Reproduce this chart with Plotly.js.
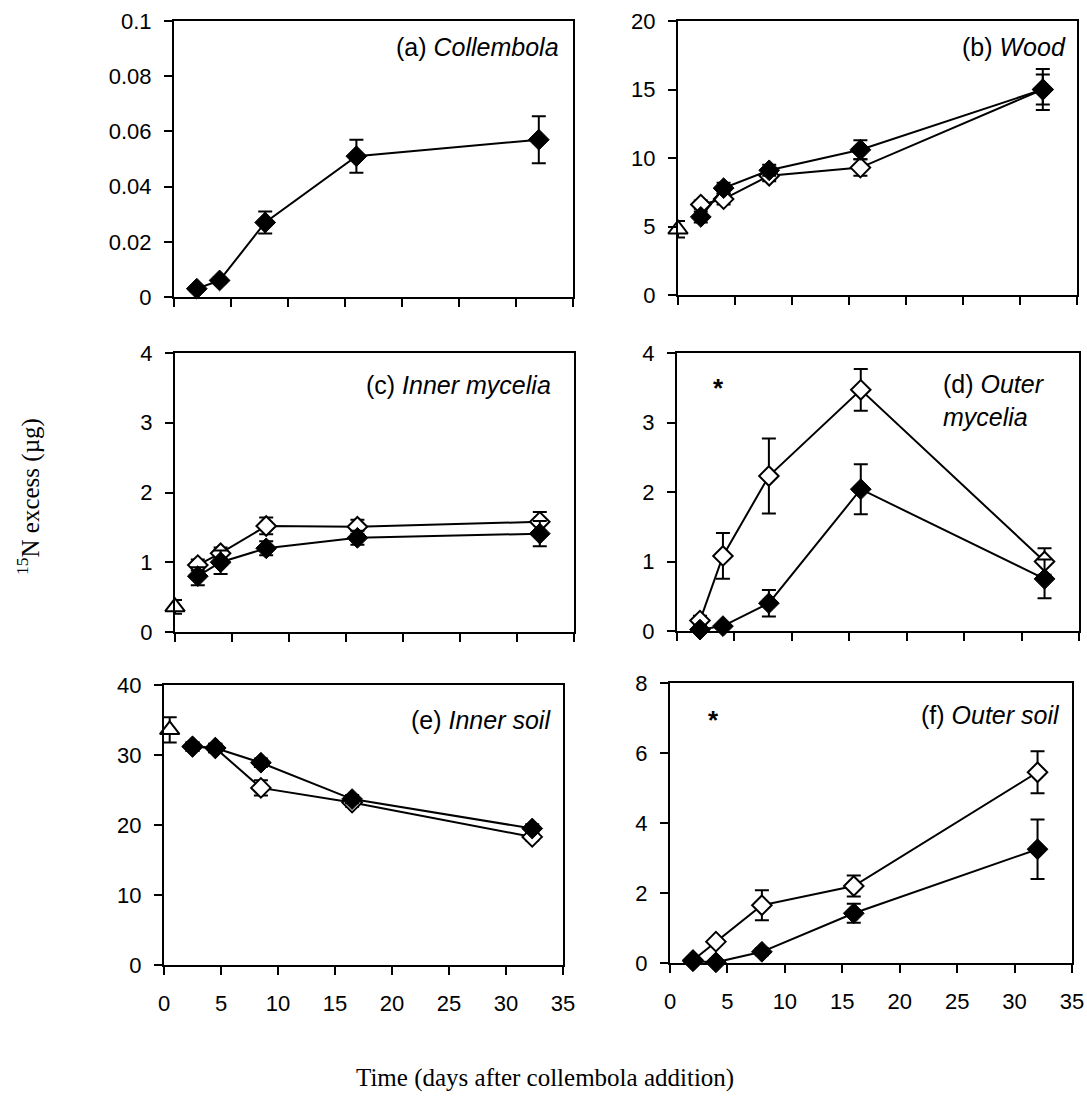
<!DOCTYPE html>
<html><head><meta charset="utf-8">
<script src="https://cdn.plot.ly/plotly-3.0.1.min.js"></script>
<style>html,body{margin:0;padding:0;background:#fff}</style>
</head><body>
<div id="chart" style="width:1087px;height:1110px"></div>
<script>
// ---- data ----
const days = [2, 4, 8, 16, 32];
const daysInnerSoil = [2.5, 4.5, 8.5, 16.5, 32.3];
const startDay = [0];
const startDayInnerSoil = [0.5];

const collembolaFilled = [0.003, 0.006, 0.027, 0.051, 0.057];
const collembolaFilledErr = [0.001, 0.001, 0.004, 0.006, 0.0085];

const woodFilled = [5.7, 7.8, 9.1, 10.6, 15.0];
const woodFilledErr = [0.4, 0.4, 0.4, 0.7, 1.5];
const woodOpen = [6.6, 7.0, 8.7, 9.3, 15.0];
const woodOpenErr = [0.3, 0.4, 0.4, 0.6, 1.1];
const woodStart = [4.8];
const woodStartErr = [0.6];

const innerMycFilled = [0.8, 1.0, 1.2, 1.35, 1.41];
const innerMycFilledErr = [0.13, 0.17, 0.1, 0.1, 0.18];
const innerMycOpen = [0.96, 1.13, 1.52, 1.51, 1.58];
const innerMycOpenErr = [0.08, 0.08, 0.12, 0.1, 0.14];
const innerMycStart = [0.36];
const innerMycStartErr = [0.1];

const outerMycFilled = [0.02, 0.07, 0.4, 2.04, 0.75];
const outerMycFilledErr = [0.02, 0.03, 0.19, 0.36, 0.28];
const outerMycOpen = [0.15, 1.08, 2.23, 3.47, 1.0];
const outerMycOpenErr = [0.07, 0.33, 0.54, 0.3, 0.19];

const innerSoilFilled = [31.2, 31.0, 28.9, 23.7, 19.5];
const innerSoilFilledErr = [0.6, 0.6, 0.6, 0.6, 0.6];
const innerSoilOpen = [31.2, 31.0, 25.3, 23.2, 18.3];
const innerSoilOpenErr = [0.6, 0.6, 1.1, 0.6, 0.5];
const innerSoilStart = [33.6];
const innerSoilStartErr = [1.8];

const outerSoilFilled = [0.05, 0.02, 0.32, 1.42, 3.25];
const outerSoilFilledErr = [0.03, 0.03, 0.1, 0.27, 0.85];
const outerSoilOpen = [0.08, 0.61, 1.65, 2.2, 5.45];
const outerSoilOpenErr = [0.03, 0.08, 0.43, 0.3, 0.6];

const panelLabels = ['(a) <i>Collembola</i>', '(b) <i>Wood</i>', '(c) <i>Inner mycelia</i>',
  '(d) <i>Outer</i><br><i>mycelia</i>', '(e) <i>Inner soil</i>', '(f) <i>Outer soil</i>'];
const yRanges = [[0, 0.1], [0, 20], [0, 4], [0, 4], [0, 40], [0, 8]];
const yDticks = [0.02, 5, 1, 1, 10, 2];
const xTitle = 'Time (days after collembola addition)';
const yTitle = '<sup>15</sup>N excess (µg)';

// ---- geometry (pixel boxes of panels) ----
const W = 1087, H = 1110;
const boxes = [
  [174, 573, 21, 297],
  [678, 1077, 21, 295],
  [175, 574, 353, 632],
  [677, 1079, 353, 631],
  [164, 563, 685, 965],
  [670, 1072, 683, 963]
];
const fx = p => p / W;
const fy = p => 1 - p / H;

const SANS = 'Liberation Sans, Arial, sans-serif';
const SERIF = 'Liberation Serif, Times New Roman, serif';

function errs(a) { return {type: 'data', array: a, visible: true, color: 'black', thickness: 2, width: 7}; }
function openTrace(x, y, e, k) {
  return {x, y, error_y: errs(e), xaxis: 'x' + k, yaxis: 'y' + k, type: 'scatter', mode: 'lines+markers',
    line: {color: 'black', width: 2}, cliponaxis: false,
    marker: {symbol: 'diamond', size: 15, color: 'white', line: {color: 'black', width: 2}}, showlegend: false};
}
function filledTrace(x, y, e, k) {
  return {x, y, error_y: errs(e), xaxis: 'x' + k, yaxis: 'y' + k, type: 'scatter', mode: 'lines+markers',
    line: {color: 'black', width: 2}, cliponaxis: false,
    marker: {symbol: 'diamond', size: 16, color: 'black', line: {color: 'black', width: 1}}, showlegend: false};
}
function startTrace(x, y, e, k) {
  return {x, y, error_y: errs(e), xaxis: 'x' + k, yaxis: 'y' + k, type: 'scatter', mode: 'markers',
    cliponaxis: false,
    marker: {symbol: 'triangle-up', size: 17, color: 'white', line: {color: 'black', width: 2}}, showlegend: false};
}

const traces = [
  filledTrace(days, collembolaFilled, collembolaFilledErr, 1),
  openTrace(days, woodOpen, woodOpenErr, 2),
  filledTrace(days, woodFilled, woodFilledErr, 2),
  startTrace(startDay, woodStart, woodStartErr, 2),
  openTrace(days, innerMycOpen, innerMycOpenErr, 3),
  filledTrace(days, innerMycFilled, innerMycFilledErr, 3),
  startTrace(startDay, innerMycStart, innerMycStartErr, 3),
  openTrace(days, outerMycOpen, outerMycOpenErr, 4),
  filledTrace(days, outerMycFilled, outerMycFilledErr, 4),
  openTrace(daysInnerSoil, innerSoilOpen, innerSoilOpenErr, 5),
  filledTrace(daysInnerSoil, innerSoilFilled, innerSoilFilledErr, 5),
  startTrace(startDayInnerSoil, innerSoilStart, innerSoilStartErr, 5),
  openTrace(days, outerSoilOpen, outerSoilOpenErr, 6),
  filledTrace(days, outerSoilFilled, outerSoilFilledErr, 6)
];

const layout = {
  width: W, height: H,
  margin: {l: 0, r: 0, t: 0, b: 0},
  paper_bgcolor: 'white', plot_bgcolor: 'white',
  showlegend: false,
  annotations: [],
  font: {family: SANS, color: 'black', size: 22}
};

boxes.forEach((b, i) => {
  const k = i + 1;
  const xs = k === 1 ? '' : String(k);
  layout['xaxis' + xs] = {
    domain: [fx(b[0]), fx(b[1])], anchor: 'y' + k, range: [0, 35], dtick: 5, tick0: 0,
    showgrid: false, zeroline: false, showline: true, mirror: true, linecolor: 'black', linewidth: 2,
    ticks: 'outside', ticklen: 8, tickwidth: 2, tickcolor: 'black',
    showticklabels: k >= 5, ticklabelstandoff: 10, ticklabeloverflow: 'allow',
    tickfont: {family: SANS, size: 22, color: 'black'}, fixedrange: true
  };
  layout['yaxis' + xs] = {
    domain: [fy(b[3]), fy(b[2])], anchor: 'x' + k, range: yRanges[i], dtick: yDticks[i], tick0: 0,
    showgrid: false, zeroline: false, showline: true, mirror: true, linecolor: 'black', linewidth: 2,
    ticks: 'outside', ticklen: 8, tickwidth: 2, tickcolor: 'black', ticklabelstandoff: 8,
    ticklabeloverflow: 'allow',
    tickfont: {family: SANS, size: 22, color: 'black'}, fixedrange: true
  };
});

// panel labels
const labelPos = [
  {x: 561, y: 47, xa: 'right'},
  {x: 1068, y: 47, xa: 'right'},
  {x: 553, y: 385, xa: 'right'},
  {x: 941, y: 401, xa: 'left'},
  {x: 553, y: 720, xa: 'right'},
  {x: 1062, y: 715, xa: 'right'}
];
labelPos.forEach((p, i) => {
  layout.annotations.push({
    text: panelLabels[i], xref: 'paper', yref: 'paper', x: fx(p.x), y: fy(p.y),
    xanchor: p.xa, yanchor: 'middle', showarrow: false, align: 'left',
    font: {family: SANS, size: 25, color: 'black'}
  });
});
// significance asterisks
[[718, 388], [714, 720]].forEach(p => {
  layout.annotations.push({text: '<b>*</b>', xref: 'paper', yref: 'paper', x: fx(p[0]), y: fy(p[1]),
    xanchor: 'center', yanchor: 'middle', showarrow: false, font: {family: SANS, size: 26, color: 'black'}});
});
// axis titles
layout.annotations.push({text: xTitle, xref: 'paper', yref: 'paper', x: fx(545), y: fy(1078),
  xanchor: 'center', yanchor: 'middle', showarrow: false, font: {family: SERIF, size: 25, color: 'black'}});
layout.annotations.push({text: yTitle, xref: 'paper', yref: 'paper', x: fx(28), y: fy(497),
  xanchor: 'center', yanchor: 'middle', showarrow: false, textangle: -90,
  font: {family: SERIF, size: 25, color: 'black'}});

Plotly.newPlot('chart', traces, layout, {staticPlot: true, displayModeBar: false});
</script>
</body></html>
